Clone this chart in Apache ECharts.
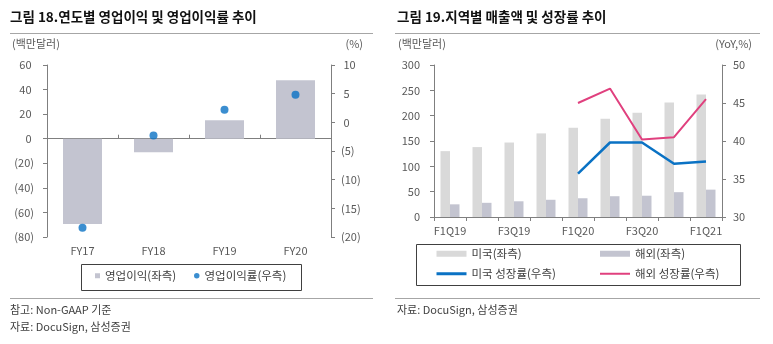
<!DOCTYPE html>
<html><head><meta charset="utf-8">
<script src="https://cdn.jsdelivr.net/npm/echarts@6/dist/echarts.min.js"></script>
<style>html,body{margin:0;padding:0;background:#fff}#c{width:773px;height:344px}</style>
</head><body><div id="c"></div>
<script>
// Chart 18
const years = ['FY17', 'FY18', 'FY19', 'FY20'];
const opIncome = [-69.5, -11, 15, 47.5];
const opMargin = [-18.4, -2.3, 2.2, 4.8];
// Chart 19
const quarters = ['F1Q19', 'F2Q19', 'F3Q19', 'F4Q19', 'F1Q20', 'F2Q20', 'F3Q20', 'F4Q20', 'F1Q21'];
const usRev = [130, 138, 147, 165, 176, 194, 206, 226, 242];
const intlRev = [25, 28, 31, 34, 37, 41, 42, 49, 54];
const usGrowth = [null, null, null, null, 35.7, 39.8, 39.8, 37.0, 37.3];
const intlGrowth = [null, null, null, null, 45.0, 46.9, 40.2, 40.5, 45.5];

const FONT = 'Noto Sans CJK KR';
const AX = '#7f7f7f';
const LBL = '#595959';
const C_BAR = '#c3c4d0';
const C_US = '#d9d9d9';
const C_BLUE = '#0a72c4';
const C_PINK = '#e0407e';

const neg = v => v < 0 ? '(' + (-v) + ')' : v + ' ';
const negR = v => v < 0 ? '(' + (-v) + ')' : ' ' + v;

function yAx(grid, pos, min, max, interval, fmt, margin) {
  return {
    type: 'value', gridIndex: grid, position: pos, min, max, interval,
    axisLine: { show: true, lineStyle: { color: AX, width: 1 } },
    axisTick: { show: true, length: 4, lineStyle: { color: AX } },
    splitLine: { show: false },
    axisLabel: { color: LBL, fontSize: 11, fontFamily: FONT, margin, formatter: fmt }
  };
}

function txt(x, y, text, opts) {
  return Object.assign({ type: 'text', x, y, silent: true,
    style: Object.assign({ text, fontFamily: FONT, fontSize: 11, fill: LBL, verticalAlign: 'middle' }, opts || {}) });
}
function hline(x1, x2, y, color) {
  return { type: 'line', silent: true, shape: { x1, y1: y, x2, y2: y }, style: { stroke: color || '#a6a6a6', lineWidth: 1 } };
}

const legTxt = { fontSize: 11.5, color: '#404040', fontFamily: FONT };
function leg(name, left, top, icon, w, h) {
  return { data: [name], left, top, padding: 0, icon, itemWidth: w, itemHeight: h,
    selectedMode: false, textStyle: legTxt };
}

const chart = echarts.init(document.getElementById('c'));
chart.setOption({
  animation: false,
  grid: [
    { left: 47, top: 65, width: 284, height: 172 },
    { left: 434, top: 65, width: 288, height: 152 }
  ],
  xAxis: [
    { type: 'category', gridIndex: 0, data: years, position: 'bottom',
      axisLine: { show: false, onZero: false }, axisTick: { show: false },
      axisLabel: { color: LBL, fontSize: 11, fontFamily: FONT, margin: 8 } },
    { type: 'category', gridIndex: 0, data: years,
      axisLine: { show: true, onZero: true, onZeroAxisIndex: 0, lineStyle: { color: AX } },
      axisTick: { show: true, length: 4, lineStyle: { color: AX } },
      axisLabel: { show: false } },
    { type: 'category', gridIndex: 1, data: quarters,
      axisLine: { show: true, lineStyle: { color: AX } },
      axisTick: { show: true, interval: 0, length: 4, lineStyle: { color: AX } },
      axisLabel: { interval: 1, color: LBL, fontSize: 11, fontFamily: FONT, margin: 8 } }
  ],
  yAxis: [
    yAx(0, 'left', -80, 60, 20, neg, 13),
    yAx(0, 'right', -20, 10, 5, negR, 10),
    yAx(1, 'left', 0, 300, 50, v => v, 14),
    yAx(1, 'right', 30, 50, 5, v => v, 11)
  ],
  legend: [
    leg('영업이익(좌측)', 95, 270, 'rect', 5, 5),
    leg('영업이익률(우측)', 194, 270, 'circle', 5.5, 5.5),
    leg('미국(좌측)', 436.5, 248, 'rect', 30, 6),
    leg('해외(좌측)', 600, 248, 'rect', 30, 6),
    leg('미국 성장률(우측)', 436.5, 268, 'rect', 30, 3),
    leg('해외 성장률(우측)', 600, 268, 'rect', 30, 2)
  ],
  series: [
    { name: '영업이익(좌측)', type: 'bar', xAxisIndex: 0, yAxisIndex: 0, data: opIncome,
      barWidth: 39, itemStyle: { color: C_BAR } },
    { name: '영업이익률(우측)', type: 'scatter', xAxisIndex: 0, yAxisIndex: 1, data: opMargin,
      symbolSize: 8, itemStyle: { color: C_BLUE } },
    { name: '미국(좌측)', type: 'bar', xAxisIndex: 2, yAxisIndex: 2, data: usRev,
      barWidth: 9.5, barGap: '0%', itemStyle: { color: C_US } },
    { name: '해외(좌측)', type: 'bar', xAxisIndex: 2, yAxisIndex: 2, data: intlRev,
      barWidth: 9.5, barGap: '0%', itemStyle: { color: C_BAR } },
    { name: '미국 성장률(우측)', type: 'line', xAxisIndex: 2, yAxisIndex: 3, data: usGrowth,
      symbol: 'none', lineStyle: { color: C_BLUE, width: 2.5 }, itemStyle: { color: C_BLUE } },
    { name: '해외 성장률(우측)', type: 'line', xAxisIndex: 2, yAxisIndex: 3, data: intlGrowth,
      symbol: 'none', lineStyle: { color: C_PINK, width: 2 }, itemStyle: { color: C_PINK } }
  ],
  graphic: [
    txt(10, 17, '그림 18.연도별 영업이익 및 영업이익률 추이', { fontSize: 13.5, fontWeight: 'bold', fill: '#111' }),
    txt(397, 17, '그림 19.지역별 매출액 및 성장률 추이', { fontSize: 13.5, fontWeight: 'bold', fill: '#111' }),
    hline(10, 373, 33.5),
    hline(395, 760, 33.5),
    txt(12, 44, '(백만달러)'),
    txt(363, 44, '(%)', { align: 'right' }),
    txt(398, 44, '(백만달러)'),
    txt(752, 44, '(YoY,%)', { align: 'right' }),
    { type: 'rect', silent: true, shape: { x: 81.5, y: 264.5, width: 220, height: 26 },
      style: { fill: 'none', stroke: '#404040', lineWidth: 1 } },
    { type: 'rect', silent: true, shape: { x: 416.5, y: 244.5, width: 324, height: 41 },
      style: { fill: 'none', stroke: '#404040', lineWidth: 1 } },
    hline(10, 373, 298.5),
    hline(395, 760, 298.5),
    txt(10, 310, '참고: Non-GAAP 기준', { fill: '#404040' }),
    txt(10, 327, '자료: DocuSign, 삼성증권', { fill: '#404040' }),
    txt(397, 310, '자료: DocuSign, 삼성증권', { fill: '#404040' })
  ]
});
</script></body></html>
